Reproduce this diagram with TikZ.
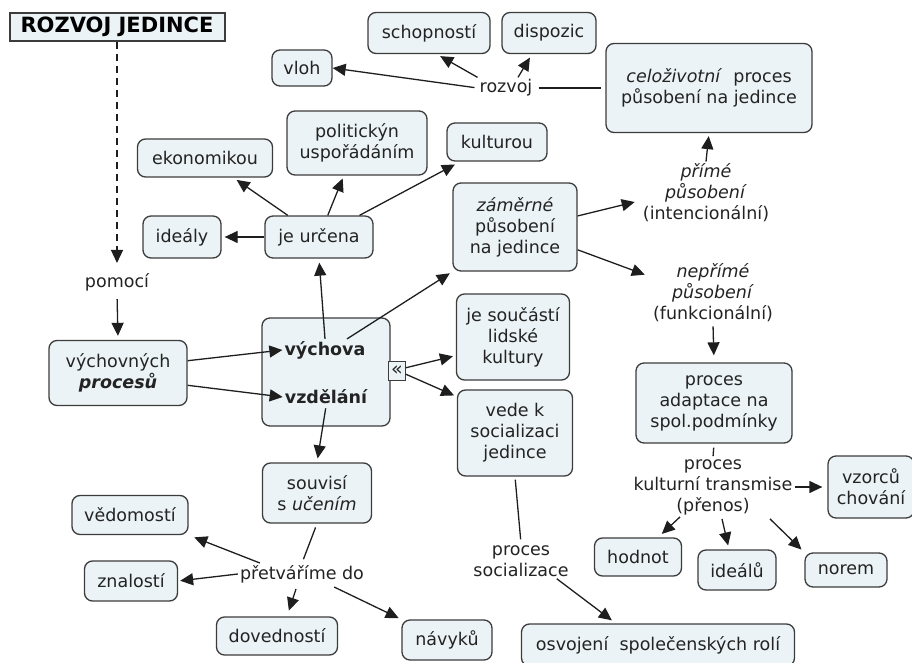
\documentclass[tikz,border=0pt]{standalone}
\usepackage{fontspec}
\setmainfont{DejaVu Sans}
\usetikzlibrary{arrows.meta,calc}
\definecolor{boxfill}{RGB}{235,243,246}
\definecolor{edge}{RGB}{60,60,60}
\definecolor{txt}{RGB}{35,35,35}
\definecolor{lin}{RGB}{30,30,30}

\begin{document}
\begin{tikzpicture}[x=1pt,y=-1pt,
  every node/.style={font=\fontsize{17.5}{21}\selectfont, text=txt},
  box/.style={draw=edge, fill=boxfill, rounded corners=8pt, line width=1.3pt, align=center, inner sep=0pt},
  wh/.style 2 args={minimum width=#1pt, minimum height=#2pt},
  lbl/.style={align=center, inner sep=2pt},
  arr/.style={draw=lin, line width=1.3pt, -{Triangle[length=13pt,width=12pt]}},
  ln/.style={draw=lin, line width=1.3pt}]

\useasboundingbox (0,0) rectangle (912,663);

% title
\node[draw=edge, fill=boxfill, line width=2pt, wh={215}{28}, inner sep=0pt,
      font=\fontsize{21}{24}\selectfont\bfseries, text=black] (title) at (117,27) {ROZVOJ JEDINCE};
\node[lbl] (pomoci) at (117,282) {pomocí};

% upper row
\node[box, wh={60}{36}]  (vloh)  at (302,68) {vloh};
\node[box, wh={122}{41}] (schop) at (429,33) {schopností};
\node[box, wh={94}{41}]  (disp)  at (549,33) {dispozic};
\node[lbl] (rozvoj) at (506,88) {rozvoj};
\node[box, wh={206}{89}] (celo) at (709,88) {\textit{celoživotní}\ \ proces\\působení na jedince};

% je určena cluster
\node[box, wh={140}{64}] (polit)  at (357,143) {politickýn\\uspořádáním};
\node[box, wh={135}{38}] (ekon)   at (205,158) {ekonomikou};
\node[box, wh={100}{38}] (kult)   at (497,142) {kulturou};
\node[box, wh={78}{42}]  (idealy) at (182,237) {ideály};
\node[box, wh={108}{42}] (urcena) at (319,237) {je určena};

% působení
\node[box, wh={124}{88}] (zamerne) at (515,227) {\textit{záměrné}\\působení\\na jedince};
\node[lbl] (prime)   at (706,193) {\textit{přímé}\\\textit{působení}\\(intencionální)};
\node[lbl] (neprime) at (713,293) {\textit{nepřímé}\\\textit{působení}\\(funkcionální)};

% centre
\node[box, wh={138}{65}] (vych) at (118,373) {výchovných\\\textbf{\textit{procesů}}};
\node[box, wh={128}{108}] (vv) at (326,372) {};
\node[lbl, font=\fontsize{17.5}{21}\selectfont\bfseries] (vychova)  at (325,350) {výchova};
\node[lbl, font=\fontsize{17.5}{21}\selectfont\bfseries] (vzdelani) at (326,397) {vzdělání};
\node[draw=edge, fill=boxfill, line width=1pt, wh={17}{19}, inner sep=0pt,
      font=\fontsize{19}{19}\selectfont] (chev) at (397,371) {«};
\node[box, wh={113}{86}] (soucasti) at (513,337) {je součástí\\lidské\\kultury};
\node[box, wh={115}{86}] (vede)     at (515,433) {vede k\\socializaci\\jedince};

% learning
\node[box, wh={109}{60}] (souvisi) at (317,493) {souvisí\\s \textit{učením}};
\node[lbl] (pretv) at (302,574) {přetváříme do};
\node[box, wh={116}{39}] (vedom) at (130,515) {vědomostí};
\node[box, wh={93}{40}]  (znal)  at (131,581) {znalostí};
\node[box, wh={121}{38}] (doved) at (277,636) {dovedností};
\node[box, wh={90}{40}]  (navyk) at (447,640) {návyků};

% socialisation
\node[lbl] (procsoc) at (521,561) {proces\\socializace};
\node[box, wh={273}{42}] (osvoj) at (658,645) {osvojení\ \ společenských rolí};

% adaptation
\node[box, wh={156}{80}] (adapt)  at (714,403) {proces\\adaptace na\\spol.podmínky};
\node[lbl] (transm) at (713,487) {proces\\kulturní transmise\\(přenos)};
\node[box, wh={86}{62}] (vzorcu) at (871,487) {vzorců\\chování};
\node[box, wh={87}{38}] (hodnot) at (638,557) {hodnot};
\node[box, wh={78}{40}] (idealu) at (737,570) {ideálů};
\node[box, wh={82}{34}] (norem)  at (846,570) {norem};

% connectors
\draw[arr, dash pattern=on 7pt off 5pt, shorten >=8pt] (title.south) -- (pomoci.north);
\draw[arr, shorten <=6pt, shorten >=4pt] (pomoci.south) -- (vych.north);

\draw[arr, shorten <=3pt] (rozvoj.west) -- (vloh.east);
\draw[arr, shorten >=4pt] (rozvoj.north west) -- (schop.-70);
\draw[arr, shorten >=4pt] ($(rozvoj.north)+(12,0)$) -- ($(disp.south)+(-17,0)$);
\draw[ln, shorten <=4pt, shorten >=4pt] (rozvoj.east) -- (celo.west);

\draw[arr, shorten >=3pt] (urcena.west) -- (idealy.east);
\draw[arr, shorten >=4pt] (urcena) -- (ekon);
\draw[arr, shorten >=3pt] (urcena) -- (polit);
\draw[arr, shorten >=6pt] (urcena) -- (kult);

\draw[arr] (vych.10) -- (vychova.west);
\draw[arr] (vych.-10) -- (vzdelani.west);
\draw[arr, shorten >=4pt] (vychova.north) -- (urcena.south);
\draw[arr, shorten >=3pt] ($(vychova.north)+(22,0)$) -- (zamerne.south west);
\draw[arr, shorten >=3pt] (chev.20) -- (soucasti.-162);
\draw[arr, shorten >=3pt] (chev.-20) -- (vede.148);
\draw[arr, shorten <=2pt, shorten >=4pt] (vzdelani.south) -- (souvisi.north);

\draw[arr] (zamerne.10) -- ($(prime.west)+(-6,9)$);
\draw[arr, shorten >=3pt] (prime.north) -- (celo.south);
\draw[arr] (zamerne.-20) -- ($(neprime.north west)+(-6,13)$);
\draw[arr, shorten <=2pt, shorten >=7pt] (neprime.south) -- (adapt.north);

\draw[ln, shorten <=4pt, shorten >=4pt] (souvisi.south) -- (pretv.north);
\draw[arr, shorten >=6pt] ($(pretv.north west)+(22,0)$) -- (vedom.south east);
\draw[arr, shorten >=2pt] (pretv.west) -- (znal.east);
\draw[arr, shorten >=6pt] ($(pretv.south)+(-6,4)$) -- ($(doved.north)+(10,0)$);
\draw[arr, shorten >=3pt] ($(pretv.south east)+(-32,2)$) -- (navyk.north west);

\draw[ln, shorten <=3pt, shorten >=4pt] (vede.south) -- (procsoc.north);
\draw[arr, shorten >=5pt] ($(procsoc.south east)+(-14,0)$) -- ($(osvoj.north west)+(95,0)$);

\draw[ln, shorten <=4pt, shorten >=1pt] (adapt.south) -- (transm.north);
\draw[arr, shorten >=5pt] (transm.east) -- (vzorcu.west);
\draw[arr, shorten >=5pt] ($(transm.south)+(-33,0)$) -- ($(hodnot.north east)+(-24,0)$);
\draw[arr, shorten >=4pt] ($(transm.south)+(9,2)$) -- ($(idealu.north)+(-8,0)$);
\draw[arr, shorten >=4pt] ($(transm.south)+(57,2)$) -- (norem.north west);

\end{tikzpicture}
\end{document}
